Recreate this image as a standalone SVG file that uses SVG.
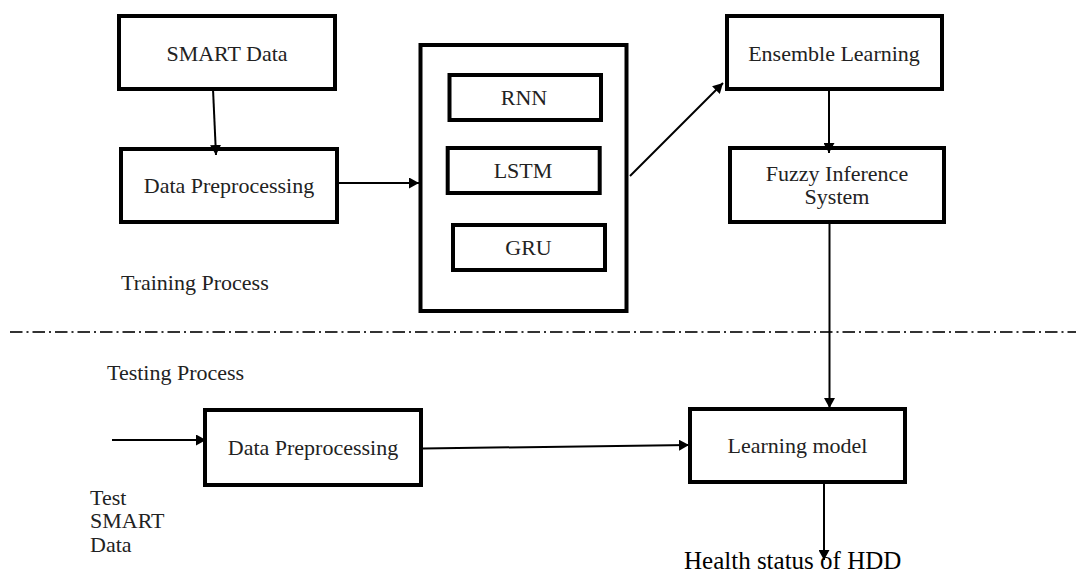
<svg xmlns="http://www.w3.org/2000/svg" width="1076" height="573" viewBox="0 0 1076 573">
<defs>
<marker id="arr" markerUnits="userSpaceOnUse" markerWidth="11" markerHeight="11" refX="10" refY="5.5" orient="auto">
<path d="M0,0 L10,5.5 L0,11 z" fill="#000"/>
</marker>
</defs>
<style>
.box{fill:#fff;stroke:#000;stroke-width:4}
.t{font-family:"Liberation Serif","Times New Roman",serif;font-size:22px;fill:#222;text-anchor:middle}
.tl{font-family:"Liberation Serif","Times New Roman",serif;font-size:22px;fill:#222}
.c{stroke:#000;stroke-width:2;fill:none;marker-end:url(#arr)}
</style>
<rect width="1076" height="573" fill="#fff"/>
<line x1="10" y1="332" x2="1076" y2="332" stroke="#333" stroke-width="2" stroke-dasharray="12.5 4 2 4"/>
<g id="smart-data"><rect class="box" x="119" y="16" width="216" height="73"/><text class="t" x="227" y="61">SMART Data</text></g>
<g id="data-prep-train"><rect class="box" x="121" y="149" width="216" height="73"/><text class="t" x="229" y="193">Data Preprocessing</text></g>
<g id="models"><rect class="box" x="420.5" y="45" width="206" height="266" stroke-width="3.5"/>
<g id="rnn"><rect class="box" x="449.5" y="75" width="151.5" height="45"/><text class="t" x="524" y="105">RNN</text></g>
<g id="lstm"><rect class="box" x="447.7" y="148" width="152" height="45"/><text class="t" x="523" y="178">LSTM</text></g>
<g id="gru"><rect class="box" x="453" y="225" width="152" height="45"/><text class="t" x="528.5" y="255">GRU</text></g>
</g>
<g id="ensemble"><rect class="box" x="727" y="16" width="215" height="73"/><text class="t" x="834" y="61">Ensemble Learning</text></g>
<g id="fuzzy"><rect class="box" x="730" y="148" width="214" height="74"/><text class="t" x="837" y="181">Fuzzy Inference</text><text class="t" x="837" y="204">System</text></g>
<g id="data-prep-test"><rect class="box" x="205" y="410" width="216" height="75"/><text class="t" x="313" y="455">Data Preprocessing</text></g>
<g id="learning-model"><rect class="box" x="690" y="409" width="215" height="73"/><text class="t" x="797.5" y="453">Learning model</text></g>
<g id="labels">
<text class="tl" x="121" y="290">Training Process</text>
<text class="tl" x="107" y="380">Testing Process</text>
<text class="tl" x="90" y="505">Test</text>
<text class="tl" x="90" y="528">SMART</text>
<text class="tl" x="90" y="552">Data</text>
<text x="684" y="569" font-family="Liberation Serif, Times New Roman, serif" font-size="25" fill="#000">Health status of HDD</text>
</g>
<g id="connectors">
<line class="c" x1="213" y1="89" x2="216" y2="155"/>
<line class="c" x1="339" y1="183" x2="419" y2="183"/>
<line class="c" x1="630" y1="176" x2="723" y2="83"/>
<line class="c" x1="829" y1="91" x2="829" y2="153"/>
<line class="c" x1="829.5" y1="224" x2="829.5" y2="408"/>
<line class="c" x1="112" y1="440" x2="206" y2="440"/>
<line class="c" x1="423" y1="448.5" x2="689" y2="445"/>
<line class="c" x1="824" y1="484" x2="824" y2="560"/>
</g>
</svg>
